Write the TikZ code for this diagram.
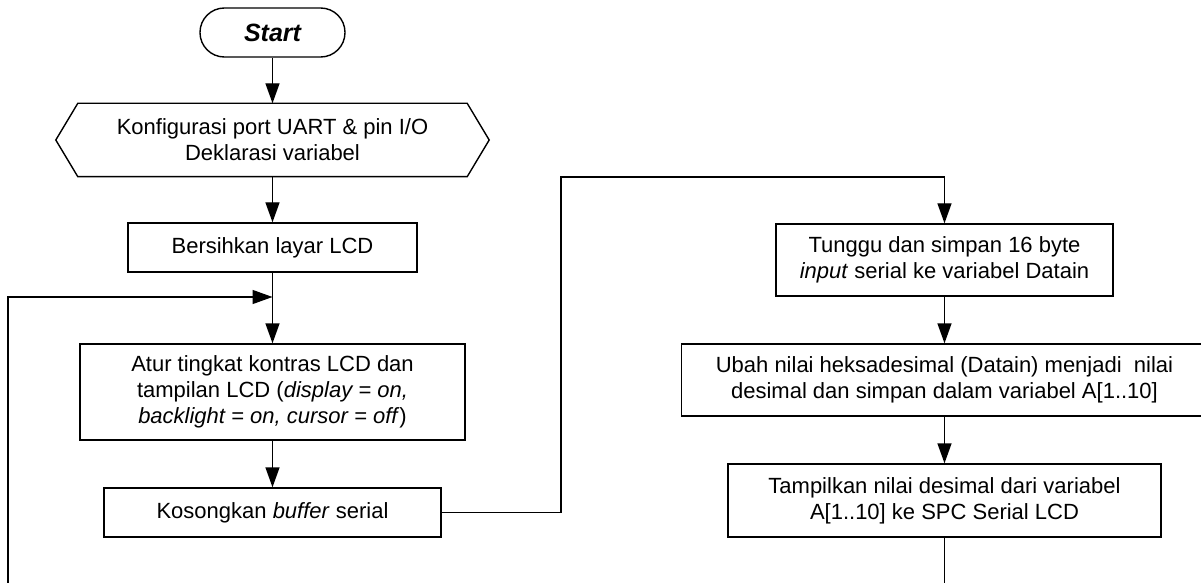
\documentclass[tikz,border=0pt]{standalone}
\usepackage{fontspec}
\setmainfont{Liberation Sans}
\usepackage{tikz}
\usetikzlibrary{arrows.meta, positioning, calc}

\begin{document}
\begin{tikzpicture}[x=0.5pt, y=-0.5pt, line width=0.7pt,
    font=\fontsize{11}{13}\selectfont,
    proc/.style={draw, rectangle, align=center, inner sep=0pt},
    arr/.style={-{Triangle[length=10pt, width=7pt]}}]
\clip (0,0) rectangle (1201,583);
% left column
\node[draw, rectangle, rounded corners=12.2pt, minimum width=72.5pt, minimum height=24.5pt,
    font=\fontsize{12.5}{14}\selectfont\bfseries\itshape] (start) at (272.5,32.5) {Start};
\node[align=center, minimum width=216pt, minimum height=36pt, inner sep=0pt] (cfg) at (272.5,140)
    {Konfigurasi port UART \& pin I/O\\Deklarasi variabel};
\draw ($(cfg.north west)+(11pt,0)$) -- ($(cfg.north east)+(-11pt,0)$) -- (cfg.east)
    -- ($(cfg.south east)+(-11pt,0)$) -- ($(cfg.south west)+(11pt,0)$) -- (cfg.west) -- cycle;
\node[proc, minimum width=144.5pt, minimum height=24.5pt] (clear) at (272.5,247.5) {Bersihkan layar LCD};
\node[proc, minimum width=192.5pt, minimum height=48pt] (contrast) at (272.5,392)
    {Atur tingkat kontras LCD dan\\tampilan LCD (\textit{display = on,}\\\textit{backlight = on, cursor = off})};
\node[proc, minimum width=168.5pt, minimum height=24.5pt] (flush) at (272.5,512.5) {Kosongkan \textit{buffer} serial};
% right column
\node[proc, minimum width=168.5pt, minimum height=36pt] (wait) at (944.5,260)
    {Tunggu dan simpan 16 byte\\\textit{input} serial ke variabel Datain};
\node[proc, minimum width=263pt, minimum height=36pt] (conv) at (944.5,380)
    {Ubah nilai heksadesimal (Datain) menjadi~ nilai\\desimal dan simpan dalam variabel A[1..10]};
\node[proc, minimum width=216.5pt, minimum height=36.5pt] (show) at (944.5,500.5)
    {Tampilkan nilai desimal dari variabel\\A[1..10] ke SPC Serial LCD};
% connectors
\coordinate (join) at (272.5,297);
\coordinate (loopend) at (8,583);
\coordinate (bend) at (561,177);
\coordinate (tail) at (944.5,583);
\draw[arr] (start) -- (cfg);
\draw[arr] (cfg) -- (clear);
\draw[arr] (clear) -- (contrast);
\draw[arr] (loopend) |- (join);
\draw[arr] (contrast) -- (flush);
\draw[arr] (flush.east) -| (bend) -| (wait.north);
\draw[arr] (wait) -- (conv);
\draw[arr] (conv) -- (show);
\draw (show) -- (tail);
\end{tikzpicture}
\end{document}
